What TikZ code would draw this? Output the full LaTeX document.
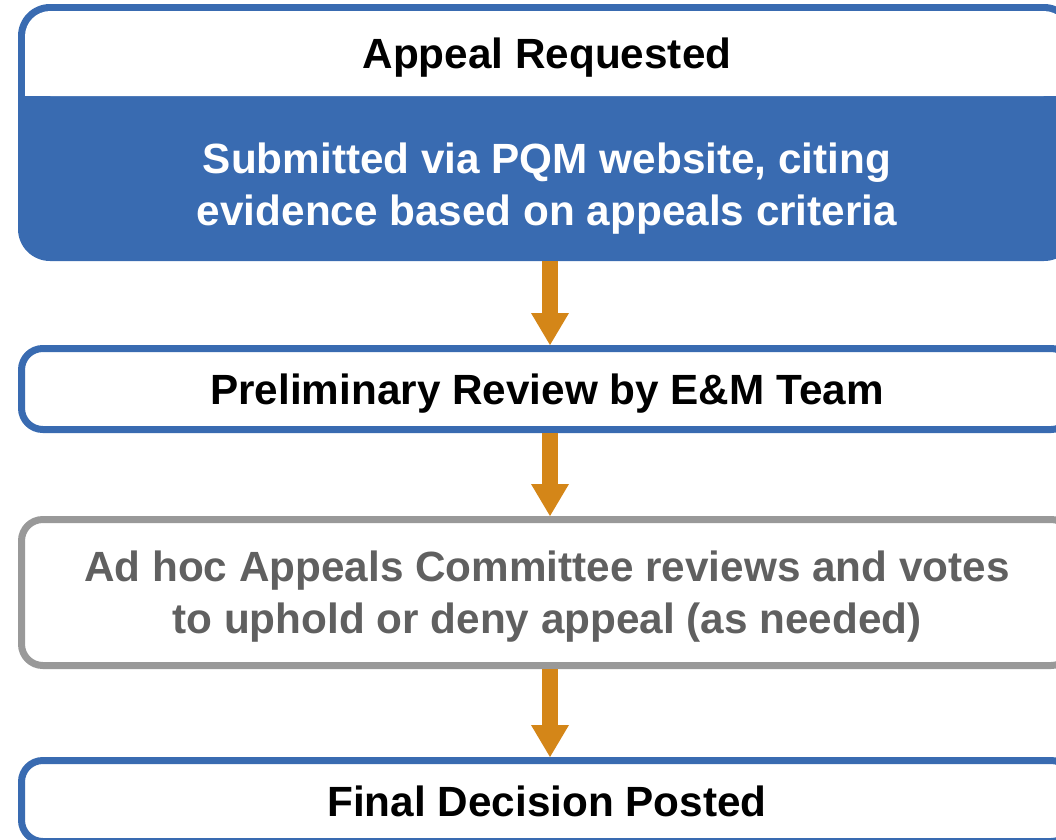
\documentclass[tikz,border=0pt]{standalone}
\usepackage{fontspec}
\setmainfont{Liberation Sans}
\usepackage{tikz}
\usetikzlibrary{positioning,arrows.meta,fit,backgrounds}
\definecolor{pqmblue}{RGB}{57,107,177}
\definecolor{pqmorange}{RGB}{212,134,24}
\definecolor{pqmgray}{RGB}{153,153,153}
\definecolor{pqmtext}{RGB}{96,96,96}

\begin{document}
\begin{tikzpicture}[node distance=63pt,
  every node/.style={font=\fontsize{31.7pt}{39pt}\selectfont\bfseries, align=center, text depth=0pt},
  stepbox/.style={draw=pqmblue, line width=5.25pt, fill=white, rounded corners=16pt,
    minimum width=788.25pt, minimum height=60.75pt, inner sep=0pt},
  flow/.style={color=pqmorange, line width=12pt,
    -{Triangle[width=28.5pt,length=24pt,line width=0pt]}}]

\useasboundingbox (0,0) rectangle (792pt,-629.25pt);


\node (req) [minimum width=783pt, minimum height=63.75pt, inner sep=0pt, outer sep=0pt] at (410.25pt,-40.125pt) {Appeal Requested};
\node (sub) [below=35.25pt of req, text=white, inner sep=0pt, outer sep=0pt] {Submitted via PQM website, citing\\evidence based on appeals criteria};
\coordinate (reqbot) at ([yshift=-118.5pt]req.south);


\begin{scope}[on background layer]
\node (appeal) [fit=(req)(sub)(reqbot), fill=pqmblue, rounded corners=24pt, inner sep=5.25pt, outer sep=0pt] {};
\fill[white, rounded corners=19pt] (req.south west) rectangle (req.north east);
\fill[white] (req.south west) rectangle ([yshift=19pt]req.south east);
\end{scope}


\node (prelim) [stepbox, below=of appeal] {Preliminary Review by E\&M Team};
\node (review) [stepbox, draw=pqmgray, text=pqmtext, minimum height=109.5pt, below=62.25pt of prelim] {Ad hoc Appeals Committee reviews and votes\\to uphold or deny appeal (as needed)};
\node (posted) [stepbox, below=66pt of review] {Final Decision Posted};


\path[flow]
([xshift=2.25pt]appeal.south) edge ([xshift=2.25pt]prelim.north)
([xshift=2.25pt]prelim.south) edge ([xshift=2.25pt]review.north)
([xshift=2.25pt]review.south) edge ([xshift=2.25pt]posted.north);

\end{tikzpicture}
\end{document}
